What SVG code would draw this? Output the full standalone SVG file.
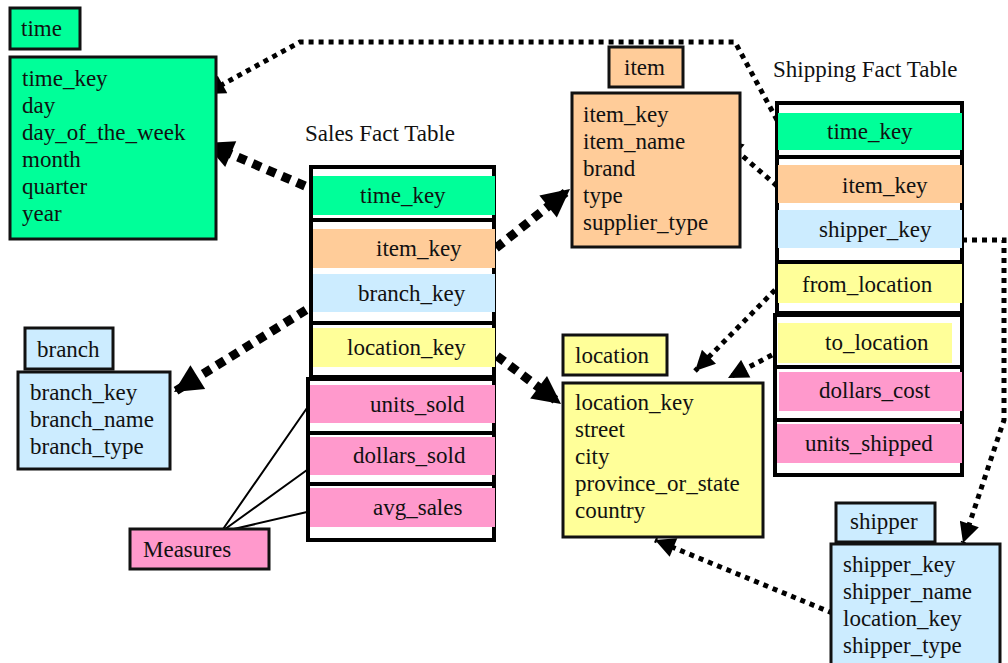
<svg xmlns="http://www.w3.org/2000/svg" width="1008" height="663" viewBox="0 0 1008 663">
<style>
text{font-family:"Liberation Serif","Times New Roman",serif;font-size:23px;fill:#111}
.box{stroke:#111;stroke-width:3}
.frame{fill:#fff;stroke:#000;stroke-width:4}
.div{stroke:#000;stroke-width:4}
.g{fill:#00FF99}.o{fill:#FFCC99}.b{fill:#CCECFF}.y{fill:#FFFF99}.p{fill:#FF99CC}
.thick{fill:none;stroke:#000;stroke-width:9;stroke-dasharray:9 7}
.thin{fill:none;stroke:#000;stroke-width:5;stroke-dasharray:5 5}
.solid{fill:none;stroke:#000;stroke-width:2}
</style>
<defs>
<marker id="big" markerUnits="userSpaceOnUse" viewBox="0 0 10 10" markerWidth="32" markerHeight="28" refX="10" refY="5" orient="auto"><path d="M0,0 L10,5 L0,10 z" fill="#000"/></marker>
<marker id="small" markerUnits="userSpaceOnUse" viewBox="0 0 10 10" markerWidth="22" markerHeight="20" refX="10" refY="5" orient="auto"><path d="M0,0 L10,5 L0,10 z" fill="#000"/></marker>
</defs>
<rect width="1008" height="663" fill="#fff"/>

<g id="connectors">
<path class="thick" d="M305,186 L205,143" marker-end="url(#big)"/>
<path class="thick" d="M496,248 L570,189" marker-end="url(#big)"/>
<path class="thick" d="M306,310 L174,392" marker-end="url(#big)"/>
<path class="thick" d="M497,356 L561,404" marker-end="url(#big)"/>
<path class="thin" d="M777,120 L735,42 L300,42 L205,94" marker-end="url(#small)"/>
<path class="thin" d="M777,186 L723,139" marker-end="url(#small)"/>
<path class="thin" d="M775,290 L695,371" marker-end="url(#small)"/>
<path class="thin" d="M772,355 L728,378" marker-end="url(#small)"/>
<path class="thin" d="M962,240 L1004,240 L1004,420 L963,543" marker-end="url(#small)"/>
<path class="thin" d="M842,617 L655,540" marker-end="url(#small)"/>
<path class="solid" d="M221,532 L307,408 M221,532 L307,470 M221,532 L307,512"/>
</g>

<g id="time">
<rect class="box g" x="10" y="8" width="70" height="41"/>
<text x="21" y="36">time</text>
<rect class="box g" x="10" y="57" width="206" height="182"/>
<text x="22" y="86">time_key</text>
<text x="22" y="113">day</text>
<text x="22" y="140">day_of_the_week</text>
<text x="22" y="167">month</text>
<text x="22" y="194">quarter</text>
<text x="22" y="221">year</text>
</g>

<g id="item">
<rect class="box o" x="609" y="47" width="74" height="40"/>
<text x="624" y="75">item</text>
<rect class="box o" x="572" y="93" width="168" height="154"/>
<text x="583" y="122">item_key</text>
<text x="583" y="149">item_name</text>
<text x="583" y="176">brand</text>
<text x="583" y="203">type</text>
<text x="583" y="230">supplier_type</text>
</g>

<g id="branch">
<rect class="box b" x="25" y="328" width="88" height="41"/>
<text x="37" y="357">branch</text>
<rect class="box b" x="18" y="372" width="152" height="97"/>
<text x="30" y="400">branch_key</text>
<text x="30" y="427">branch_name</text>
<text x="30" y="454">branch_type</text>
</g>

<g id="measures">
<rect class="box p" x="130" y="529" width="139" height="40"/>
<text x="143" y="557">Measures</text>
</g>

<g id="location">
<rect class="box y" x="563" y="335" width="104" height="40"/>
<text x="575" y="363">location</text>
<rect class="box y" x="563" y="383" width="200" height="154"/>
<text x="575" y="410">location_key</text>
<text x="575" y="437">street</text>
<text x="575" y="464">city</text>
<text x="575" y="491">province_or_state</text>
<text x="575" y="518">country</text>
</g>

<g id="shipper">
<rect class="box b" x="836" y="503" width="99" height="39"/>
<text x="850" y="529">shipper</text>
<rect class="box b" x="831" y="544" width="169" height="125"/>
<text x="843" y="572">shipper_key</text>
<text x="843" y="599">shipper_name</text>
<text x="843" y="626">location_key</text>
<text x="843" y="653">shipper_type</text>
</g>

<g id="sales-fact">
<text x="305" y="141">Sales Fact Table</text>
<rect class="frame" x="311" y="167" width="183" height="210"/>
<rect class="frame" x="308" y="379" width="186" height="161"/>
<line class="div" x1="311" y1="220" x2="496" y2="220"/>
<line class="div" x1="311" y1="323" x2="494" y2="323"/>
<line class="div" x1="308" y1="433" x2="494" y2="433"/>
<line class="div" x1="308" y1="484" x2="494" y2="484"/>
<rect class="g" x="313" y="176" width="182" height="39"/>
<rect class="o" x="313" y="229" width="182" height="39"/>
<rect class="b" x="313" y="274" width="182" height="38"/>
<rect class="y" x="313" y="328" width="182" height="39"/>
<rect class="p" x="310" y="385" width="185" height="38"/>
<rect class="p" x="310" y="437" width="185" height="38"/>
<rect class="p" x="310" y="488" width="185" height="39"/>
<text x="360" y="203">time_key</text>
<text x="376" y="256">item_key</text>
<text x="358" y="301">branch_key</text>
<text x="347" y="355">location_key</text>
<text x="370" y="412">units_sold</text>
<text x="353" y="463">dollars_sold</text>
<text x="373" y="515">avg_sales</text>
</g>

<g id="shipping-fact">
<text x="773" y="77">Shipping Fact Table</text>
<rect class="frame" x="777" y="103" width="185" height="210"/>
<rect class="frame" x="775" y="315" width="187" height="160"/>
<line class="div" x1="777" y1="157" x2="962" y2="157"/>
<line class="div" x1="777" y1="262" x2="962" y2="262"/>
<line class="div" x1="775" y1="367" x2="962" y2="367"/>
<line class="div" x1="775" y1="420" x2="962" y2="420"/>
<rect class="g" x="778" y="113" width="184" height="37"/>
<rect class="o" x="778" y="165" width="184" height="38"/>
<rect class="b" x="778" y="210" width="184" height="38"/>
<rect class="y" x="778" y="264" width="184" height="39"/>
<rect class="y" x="778" y="323" width="174" height="40"/>
<rect class="p" x="779" y="372" width="183" height="39"/>
<rect class="p" x="777" y="424" width="185" height="39"/>
<text x="827" y="139">time_key</text>
<text x="842" y="193">item_key</text>
<text x="819" y="237">shipper_key</text>
<text x="802" y="292">from_location</text>
<text x="825" y="350">to_location</text>
<text x="819" y="398">dollars_cost</text>
<text x="805" y="451">units_shipped</text>
</g>
</svg>
